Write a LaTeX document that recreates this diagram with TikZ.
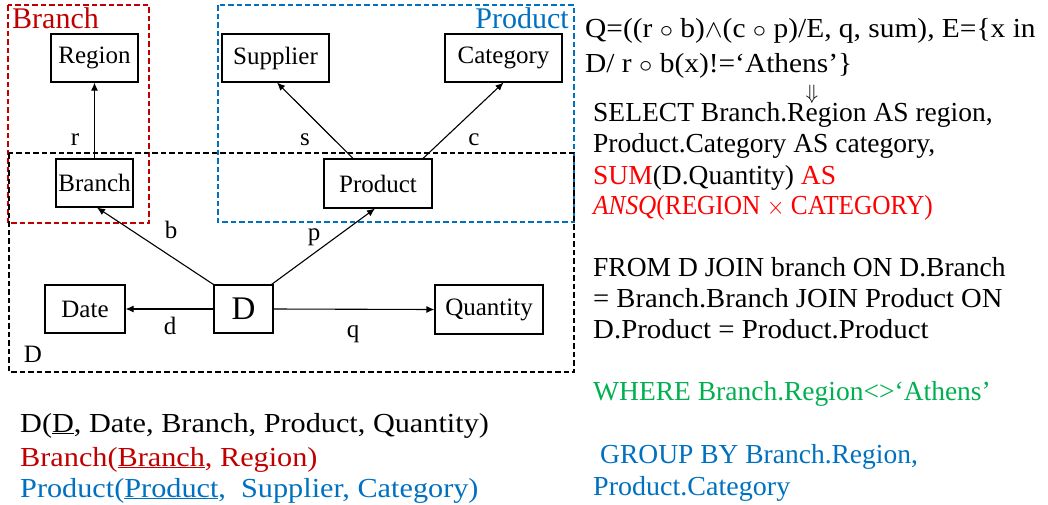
\documentclass[tikz,border=0pt]{standalone}
\usepackage{fontspec}
\usepackage{graphicx}
\setmainfont{Liberation Serif}
\newfontfamily\widefont[FakeStretch=1.1]{Liberation Serif}
\usetikzlibrary{arrows.meta}
\definecolor{dred}{HTML}{C00000}
\definecolor{bred}{HTML}{FF0000}
\definecolor{mblue}{HTML}{0070C0}
\definecolor{mgreen}{HTML}{00B050}
\begin{document}
\begin{tikzpicture}[x=1pt,y=-1pt,
 ent/.style={draw, line width=1.1pt, inner sep=0pt, fill=white, font=\fontsize{25}{25}\selectfont},
 arr/.style={-{Latex[length=8pt,width=7pt]}, line width=1.1pt},
 lbl/.style={font=\fontsize{25}{25}\selectfont, anchor=base, inner sep=0pt},
 grp/.style={dash pattern=on 5.5pt off 3pt, line width=1.3pt},
 txt/.style={font=\fontsize{27.5}{30}\selectfont, anchor=base west, inner sep=0pt},
 wtxt/.style={font=\widefont\fontsize{27.5}{30}\selectfont, anchor=base west, inner sep=0pt}]
\useasboundingbox (0,0) rectangle (1048,504);
% group frames
\draw[grp, dred] (8,5) rectangle (149,223);
\draw[grp, mblue] (218,5) rectangle (574,222);
\draw[grp, black] (9,153) rectangle (574,372);
\node[anchor=base west, text=dred, font=\fontsize{30}{30}\selectfont, inner sep=0pt] (bl) at (12,28) {Branch};
\node[anchor=base east, text=mblue, font=\fontsize{30}{30}\selectfont, inner sep=0pt] (pl) at (569,28) {Product};
\node[lbl] (lD) at (33,362) {D};
% entities
\node[ent, minimum width=87pt, minimum height=48pt] (Region) at (94.5,58) {Region};
\node[ent, minimum width=107pt, minimum height=48pt] (Supplier) at (275.5,58) {Supplier};
\node[ent, minimum width=117pt, minimum height=48pt] (Category) at (503.5,58) {Category};
\node[ent, minimum width=77pt, minimum height=48pt] (Branch) at (94.5,183) {Branch};
\node[ent, minimum width=108pt, minimum height=49pt] (Product) at (378,183.5) {Product};
\node[ent, minimum width=80pt, minimum height=48pt] (Date) at (85,309) {Date};
\node[ent, minimum width=59pt, minimum height=48pt, font=\fontsize{33}{33}\selectfont] (D) at (243.5,309) {D};
\node[ent, minimum width=108pt, minimum height=49pt] (Quantity) at (489,309.5) {Quantity};
% connectors
\draw[arr] (Branch.north) -- (Region.south);
\draw[arr] ([xshift=-25pt]Product.north) -- ([xshift=1.5pt]Supplier.south);
\draw[arr] ([xshift=45pt]Product.north) -- (Category.south);
\draw[arr] (D.north west) -- ([xshift=2.5pt]Branch.south);
\draw[arr] ([xshift=-2pt]D.north east) -- ([xshift=-3pt]Product.south);
\draw[arr] (D.west) -- (Date.east);
\draw[arr] (D.east) -- (Quantity.west);
% edge labels
\node[lbl] (lr) at (75,145) {r};
\node[lbl] (ls) at (305,145) {s};
\node[lbl] (lc) at (474,145) {c};
\node[lbl] (lb) at (171,238) {b};
\node[lbl] (lp) at (314,240) {p};
\node[lbl] (ld) at (170,334) {d};
\node[lbl] (lq) at (353,337) {q};
% right text
\node[txt] (q1) at (585,37) {\scalebox{1.07}[1]{Q=((r $\circ$ b)$\wedge$(c $\circ$ p)/E, q, sum), E=\{x in}};
\node[txt] (q2) at (585,72) {\scalebox{1.07}[1]{D/ r $\circ$ b(x)!=‘Athens’\}}};
\node[font=\fontsize{21}{21}\selectfont, inner sep=0pt] (darr) at (812,94) {$\Downarrow$};
\node[txt] (s1) at (593,121) {SELECT Branch.Region AS region,};
\node[txt] (s2) at (593,152) {Product.Category AS category,};
\node[txt] (s3) at (593,184) {\textcolor{bred}{SUM}(D.Quantity) \textcolor{bred}{AS}};
\node[txt, text=bred] (s4) at (593,214) {\scalebox{0.92}[1]{\textit{ANSQ}(REGION $\times$ CATEGORY)}};
\node[txt] (f1) at (593,276) {FROM D JOIN branch ON D.Branch};
\node[txt] (f2) at (593,307) {\scalebox{1.04}[1]{= Branch.Branch JOIN Product ON}};
\node[txt] (f3) at (593,338) {\scalebox{1.05}[1]{D.Product = Product.Product}};
\node[txt, text=mgreen] (w1) at (593,400) {WHERE Branch.Region<>‘Athens’};
\node[txt, text=mblue] (g1) at (600,463) {GROUP BY Branch.Region,};
\node[txt, text=mblue] (g2) at (593,495) {\scalebox{1.02}[1]{Product.Category}};
% bottom left text
\node[wtxt] (t1) at (20,432) {D(\underline{D}, Date, Branch, Product, Quantity)};
\node[wtxt, text=dred] (t2) at (20,466) {Branch(\underline{Branch}, Region)};
\node[wtxt, text=mblue] (t3) at (20,497) {Product(\underline{Product},\ \ Supplier, Category)};
\end{tikzpicture}
\end{document}
